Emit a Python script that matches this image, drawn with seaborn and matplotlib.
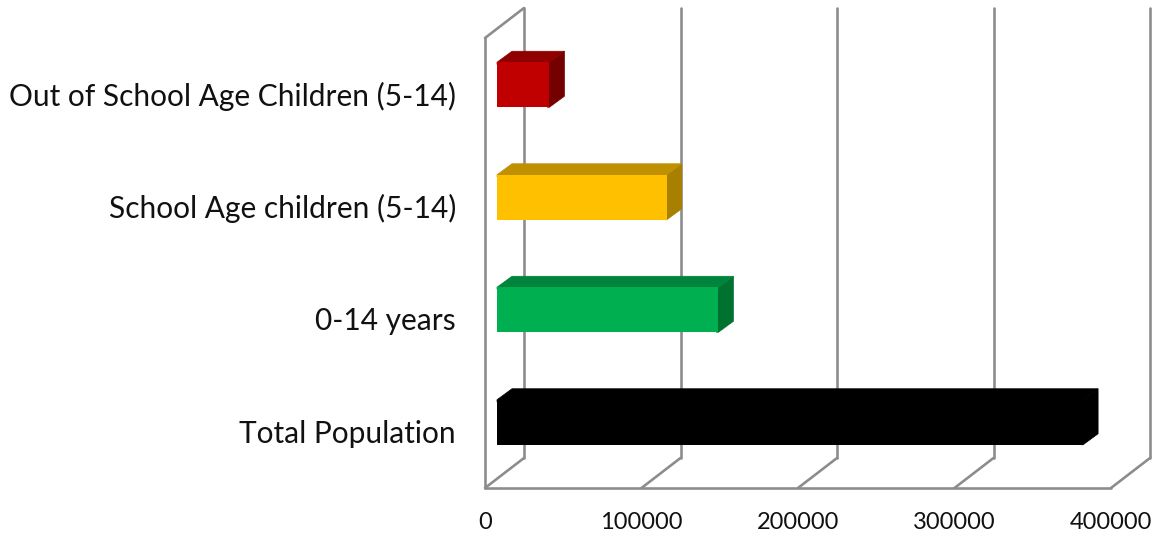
import matplotlib
matplotlib.use("Agg")
import matplotlib.pyplot as plt
from matplotlib.patches import Polygon
from matplotlib.transforms import Affine2D
import pandas as pd
import seaborn as sns

categories = ["Out of School Age Children (5-14)", "School Age children (5-14)", "0-14 years", "Total Population"]
population = [33500, 108500, 141500, 374500]
front_colors = ["#c00000", "#ffc000", "#00b050", "#000000"]
top_colors = ["#8f0000", "#bf9000", "#00843c", "#000000"]
side_colors = ["#750000", "#a88000", "#00722f", "#000000"]
x_ticks = [0, 100000, 200000, 300000, 400000]

W, H = 1159, 537
DPI = 100
DEPTH_X, DEPTH_Y = 39, 30        # floor depth of the 3D box, in pixels
BAR_DX, BAR_DY = 12, 9.5         # inset of the bar front from the box front
BAR_DEPTH_X, BAR_DEPTH_Y = 15, 11
OVERLAP = 2                      # faces run slightly under the front to hide seams
GRID = "#8c8c8c"
LW = 2.6 * 72 / DPI
FONT = "Lato"

sns.set_style("white")
plt.rcParams["font.family"] = [FONT, "DejaVu Sans"]

fig = plt.figure(figsize=(W / DPI, H / DPI), dpi=DPI)
ax = fig.add_axes([485 / W, (H - 488) / H, (1111 - 485) / W, (488 - 38) / H])

df = pd.DataFrame({"category": categories, "population": population})
sns.barplot(data=df, x="population", y="category", hue="category", palette=front_colors,
            order=categories, legend=False, width=0.4, saturation=1, ax=ax, zorder=4)
ax.set_xlim(0, 400000)
ax.set_ylim(3.5, -0.5)

back = ax.transData + Affine2D().translate(DEPTH_X, DEPTH_Y)
y_low, y_high = 3.5, -0.5
line_kw = dict(color=GRID, lw=LW, solid_capstyle="round", solid_joinstyle="round", clip_on=False)
for tick in x_ticks:
    # vertical line on the back wall plus the diagonal across the floor
    ax.plot([tick, tick], [y_low, y_high], transform=back, zorder=1, **line_kw)
    x0, y0 = ax.transData.transform((tick, y_low))
    ax.plot([x0, x0 + DEPTH_X], [y0, y0 + DEPTH_Y], transform=None, zorder=1, **line_kw)

# front floor edge, left wall edge and its top diagonal
ax.plot([0, 400000], [y_low, y_low], zorder=2, **line_kw)
ax.plot([0, 0], [y_low, y_high], zorder=2, **line_kw)
x0, y0 = ax.transData.transform((0, y_high))
ax.plot([x0, x0 + DEPTH_X], [y0, y0 + DEPTH_Y], transform=None, zorder=2, **line_kw)

# shift each bar front and add its top and side faces
shift = Affine2D().translate(BAR_DX, BAR_DY)
for bar, front_c, top_c, side_c in zip(ax.patches, front_colors, top_colors, side_colors):
    bar.set_transform(ax.transData + shift)
    bar.set_edgecolor("none")
    w = bar.get_width()
    y = bar.get_y()
    h = bar.get_height()
    (xl, yt), (xr, yb) = (ax.transData + shift).transform([(0, y), (w, y + h)])
    dx, dy = BAR_DEPTH_X, BAR_DEPTH_Y
    top = [(xl, yt - OVERLAP), (xr, yt - OVERLAP), (xr, yt), (xr + dx, yt + dy), (xl + dx, yt + dy), (xl, yt)]
    side = [(xr - OVERLAP, yb), (xr - OVERLAP, yt), (xr, yt), (xr + dx, yt + dy), (xr + dx, yb + dy), (xr, yb)]
    ax.add_patch(Polygon(side, closed=True, transform=None, fc=side_c, ec=side_c, lw=0.5, zorder=3.8, clip_on=False))
    ax.add_patch(Polygon(top, closed=True, transform=None, fc=top_c, ec=top_c, lw=0.5, zorder=3.9, clip_on=False))

for spine in ax.spines.values():
    spine.set_visible(False)
ax.patch.set_alpha(0)
ax.set_xlabel("")
ax.set_ylabel("")
ax.set_xticks(x_ticks)
ax.set_xticklabels([str(t) for t in x_ticks], fontsize=17, color="#111111")
ax.tick_params(axis="x", length=0, pad=17)
ax.tick_params(axis="y", length=0, pad=0)
ax.set_yticks(range(len(categories)))
ax.set_yticklabels([])

# category labels are right aligned to the left of the wall
for i, name in enumerate(categories):
    xp, yp = ax.transData.transform((0, i))
    ax.text(456, yp - 2, name, transform=None, ha="right", va="center",
            fontsize=21.5, color="#111111", clip_on=False)

fig.savefig("out.png", dpi=DPI, facecolor="white")
